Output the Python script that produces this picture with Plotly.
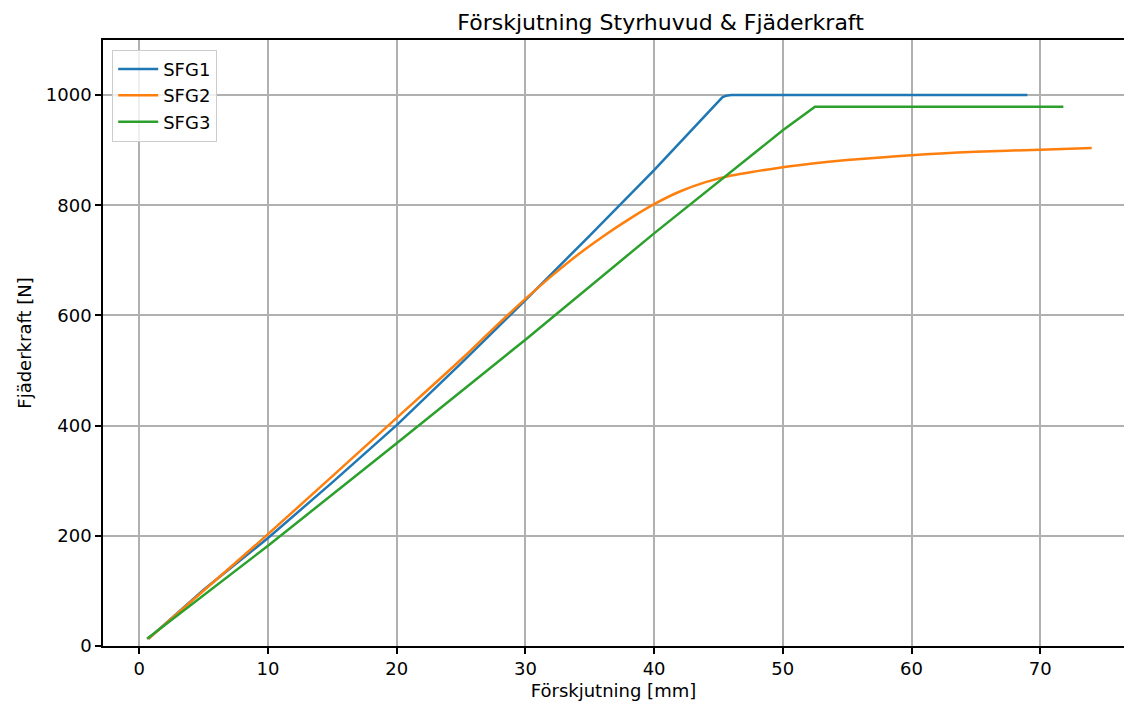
import plotly.graph_objects as go

# SFG1
sfg1_x = [0.7, 5, 10, 15, 20, 25, 30, 35, 40, 45.0, 45.3, 45.6, 46.0, 69.0]
sfg1_y = [13, 102, 196, 297, 401, 513, 628, 745, 864, 990, 996, 999, 1000, 1000]

# SFG2
sfg2_x = [0.7, 10, 20, 25, 28, 30, 32, 34, 36, 38, 40, 42, 44, 46, 48, 50, 52, 55, 60, 65, 70, 74.0]
sfg2_y = [13, 203, 414, 520, 587, 630, 671, 709, 743, 774, 802, 825, 842, 854, 862, 869, 875, 882, 891, 897, 901, 904]

# SFG3
sfg3_x = [0.6, 10, 20, 30, 40, 50, 52.5, 71.8]
sfg3_y = [13, 182, 368, 556, 749, 936, 979, 979]

series = [("SFG1", sfg1_x, sfg1_y, "#1f77b4", "linear"),
          ("SFG2", sfg2_x, sfg2_y, "#ff7f0e", "spline"),
          ("SFG3", sfg3_x, sfg3_y, "#2ca02c", "linear")]

x_ticks = [0, 10, 20, 30, 40, 50, 60, 70]
y_ticks = [0, 200, 400, 600, 800, 1000]

fig = go.Figure()
for name, xs, ys, col, shp in series:
    line = dict(color=col, width=2.5, shape=shp)
    if shp == "spline":
        line["smoothing"] = 0.8
    fig.add_trace(go.Scatter(x=xs, y=ys, mode="lines", name=name, legendgroup=name, line=line))

FONT = "DejaVu Sans"
W, H = 1116, 696
fig.update_layout(
    width=W, height=H,
    margin=dict(l=95, r=0, t=32, b=58, autoexpand=False),
    paper_bgcolor="white", plot_bgcolor="white",
    font=dict(family=FONT, size=18, color="black"),
    title=dict(text="Förskjutning Styrhuvud & Fjäderkraft", x=(95 + 1029 / 2) / W, xref="paper",
               xanchor="center", y=1 - 14 / H, yanchor="middle",
               font=dict(family=FONT, size=22, color="black")),
    showlegend=True,
    legend=dict(x=0.009, y=0.984, xanchor="left", yanchor="top",
                bgcolor="rgba(255,255,255,0.8)", bordercolor="#cccccc", borderwidth=1,
                font=dict(family=FONT, size=18, color="black"),
                tracegroupgap=0, itemwidth=40, entrywidth=110),
)
fig.update_xaxes(range=[-2.82, 76.51], tickvals=x_ticks, showgrid=True,
                 gridcolor="#b0b0b0", gridwidth=1.5, zeroline=False,
                 showline=True, linecolor="black", linewidth=1.5, mirror=True,
                 ticks="outside", ticklen=6, tickwidth=1.5, tickcolor="black",
                 tickfont=dict(size=18),
                 title=dict(text="Förskjutning [mm]", font=dict(family=FONT, size=18), standoff=6))
fig.update_yaxes(range=[0, 1100], tickvals=y_ticks, showgrid=True,
                 gridcolor="#b0b0b0", gridwidth=1.5, zeroline=False,
                 showline=True, linecolor="black", linewidth=1.5,
                 ticks="outside", ticklen=6, tickwidth=1.5, tickcolor="black",
                 tickfont=dict(size=18),
                 title=dict(text="Fjäderkraft [N]", font=dict(family=FONT, size=18), standoff=10))

fig.write_html("out.html")
